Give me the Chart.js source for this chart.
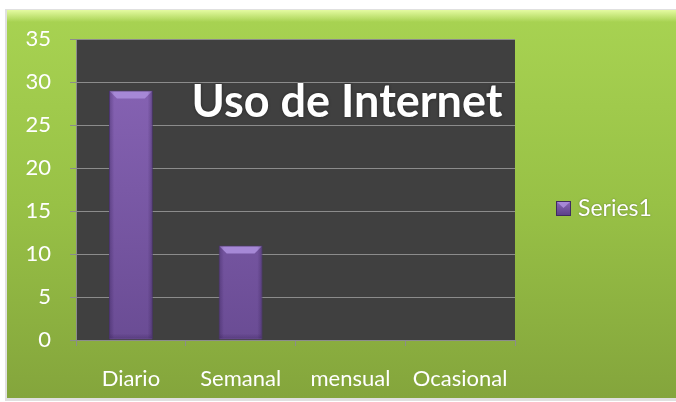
<!DOCTYPE html>
<html><head><meta charset="utf-8">
<script src="https://cdn.jsdelivr.net/npm/chart.js@4/dist/chart.umd.min.js"></script>
<style>html,body{margin:0;padding:0;background:#fff}#c{display:block}</style>
</head><body>
<canvas id="c" width="676" height="402"></canvas>
<script>
const categories = ['Diario', 'Semanal', 'mensual', 'Ocasional'];
const series1 = [29, 11, 0, 0];
const seriesName = 'Series1';
const chartTitle = 'Uso de Internet';
const yTicks = [0, 5, 10, 15, 20, 25, 30, 35];

const FONT = 'Lato, "Open Sans", sans-serif';

const bgPlugin = {
  id: 'bg',
  beforeDraw(chart) {
    const ctx = chart.ctx, ca = chart.chartArea;
    ctx.save();
    ctx.fillStyle = '#ffffff';
    ctx.fillRect(0, 0, chart.width, chart.height);
    ctx.fillStyle = 'rgba(0,0,0,0.12)';
    ctx.fillRect(5, 9, 671, 392);
    const g = ctx.createLinearGradient(0, 10, 0, 398);
    g.addColorStop(0, '#a8d352');
    g.addColorStop(0.5, '#98c146');
    g.addColorStop(1, '#84a53c');
    ctx.fillStyle = g;
    ctx.fillRect(7, 10, 669, 388);
    const gt = ctx.createLinearGradient(0, 10, 0, 22);
    gt.addColorStop(0, 'rgba(235,255,170,0.9)');
    gt.addColorStop(1, 'rgba(235,255,170,0)');
    ctx.fillStyle = gt;
    ctx.fillRect(7, 10, 669, 12);
    ctx.fillStyle = '#404040';
    ctx.fillRect(ca.left, ca.top, ca.right - ca.left, ca.bottom - ca.top);
    ctx.restore();
  },
  afterDatasetsDraw(chart) {
    const ctx = chart.ctx;
    const meta = chart.getDatasetMeta(0);
    ctx.save();
    meta.data.forEach(el => {
      const h = el.base - el.y;
      if (h < 2) return;
      const l = el.x - el.width / 2, r = el.x + el.width / 2, t = el.y;
      const b = 8;
      ctx.fillStyle = '#a688d6';
      ctx.beginPath();
      ctx.moveTo(l + 1, t + 1); ctx.lineTo(r - 1, t + 1);
      ctx.lineTo(r - b, t + b); ctx.lineTo(l + b, t + b);
      ctx.closePath(); ctx.fill();
      const gs = ctx.createLinearGradient(l, 0, r, 0);
      gs.addColorStop(0, 'rgba(40,20,70,0.35)');
      gs.addColorStop(0.12, 'rgba(40,20,70,0)');
      gs.addColorStop(0.88, 'rgba(40,20,70,0)');
      gs.addColorStop(1, 'rgba(40,20,70,0.35)');
      ctx.fillStyle = gs;
      ctx.fillRect(l + 1, t + 1, r - l - 2, h - 2);
      const gb = ctx.createLinearGradient(0, el.base - 6, 0, el.base);
      gb.addColorStop(0, 'rgba(40,20,70,0)');
      gb.addColorStop(1, 'rgba(40,20,70,0.3)');
      ctx.fillStyle = gb;
      ctx.fillRect(l + 1, el.base - 6, r - l - 2, 5);
    });
    ctx.restore();
  },
  afterDraw(chart) {
    const ctx = chart.ctx;
    ctx.save();
    ctx.font = 'bold 45px ' + FONT;
    ctx.fillStyle = '#ffffff';
    ctx.textAlign = 'center';
    ctx.textBaseline = 'alphabetic';
    ctx.shadowColor = 'rgba(0,0,0,0.5)';
    ctx.shadowBlur = 3;
    ctx.fillText(chartTitle, 347, 117);
    ctx.shadowBlur = 0;
    const ds = chart.data.datasets[0];
    const lg = ctx.createLinearGradient(0, 201, 0, 216);
    lg.addColorStop(0, '#8a68b8');
    lg.addColorStop(1, '#5a3f86');
    ctx.fillStyle = lg;
    ctx.fillRect(556, 201, 15, 15);
    ctx.fillStyle = '#a688d6';
    ctx.beginPath();
    ctx.moveTo(557, 202); ctx.lineTo(570, 202); ctx.lineTo(563.5, 208); ctx.closePath(); ctx.fill();
    ctx.strokeStyle = '#3f2b60';
    ctx.lineWidth = 1;
    ctx.strokeRect(556.5, 201.5, 14, 14);
    ctx.font = '23px ' + FONT;
    ctx.fillStyle = '#ffffff';
    ctx.textAlign = 'left';
    ctx.textBaseline = 'middle';
    ctx.shadowColor = 'rgba(0,0,0,0.35)';
    ctx.shadowBlur = 2;
    ctx.fillText(ds.label, 578, 209);
    ctx.restore();
  }
};

new Chart(document.getElementById('c'), {
  type: 'bar',
  data: {
    labels: categories,
    datasets: [{
      label: seriesName,
      data: series1,
      backgroundColor(ctx) {
        const ca = ctx.chart.chartArea;
        if (!ca) return '#7a5aa8';
        const g = ctx.chart.ctx.createLinearGradient(0, ca.top, 0, ca.bottom);
        g.addColorStop(0, '#8a66b8');
        g.addColorStop(1, '#6a4c94');
        return g;
      },
      borderColor: '#4b3472',
      borderWidth: 1,
      categoryPercentage: 1,
      barPercentage: 0.4
    }]
  },
  options: {
    responsive: false,
    animation: false,
    devicePixelRatio: 1,
    layout: { padding: { top: 39, right: 161, bottom: 0, left: 0 } },
    plugins: { legend: { display: false }, title: { display: false }, tooltip: { enabled: false } },
    scales: {
      y: {
        min: 0, max: 35,
        afterFit(s) { s.width = 76; },
        afterBuildTicks(s) { s.ticks = yTicks.map(v => ({ value: v })); },
        grid: { color: '#8c8c8c', lineWidth: 1, tickLength: 6, tickColor: '#8c8c8c' },
        border: { color: '#8c8c8c' },
        ticks: { color: '#ffffff', padding: 19, font: { family: FONT, size: 22 } }
      },
      x: {
        afterFit(s) { s.height = 62; },
        grid: { offset: true, drawOnChartArea: false, tickLength: 6, color: '#8c8c8c' },
        border: { color: '#8c8c8c' },
        ticks: { color: '#ffffff', padding: 20, font: { family: FONT, size: 22 } }
      }
    }
  },
  plugins: [bgPlugin]
});
</script>
</body></html>
